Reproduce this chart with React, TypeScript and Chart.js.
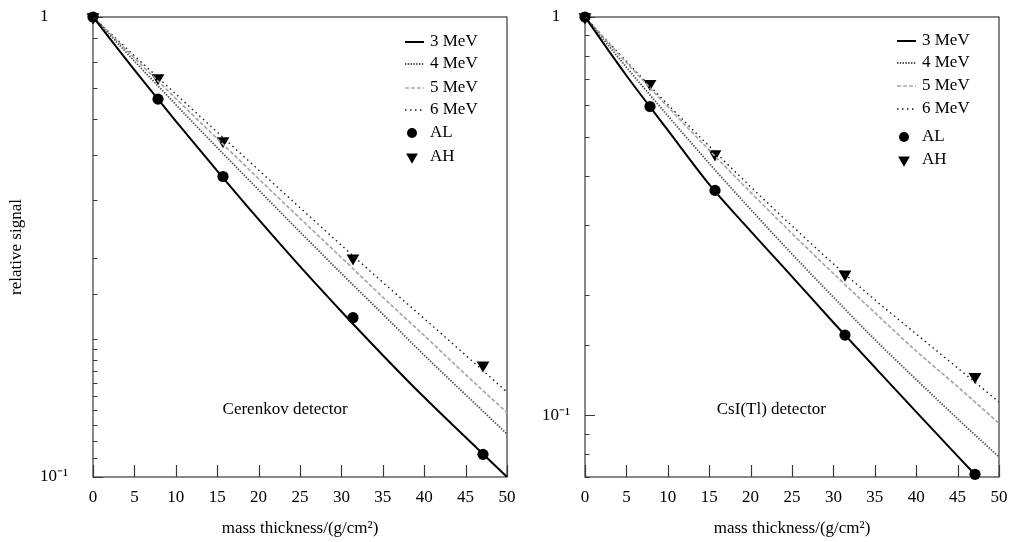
import React, { useEffect, useRef } from 'react';
import { Chart, registerables } from 'chart.js';
Chart.register(...registerables);

const FONT = "'Liberation Serif', 'Times New Roman', serif";

// mass thickness (g/cm^2) at which the calculated curves are read
const thickness = [0, 5, 10, 15, 20, 25, 30, 35, 40, 45, 50];
// measured absorber thicknesses (g/cm^2)
const sampleThickness = [0, 7.85, 15.7, 31.4, 47.1];

// Cerenkov detector – calculated curves
const cerenkov3MeV = [1, 0.767, 0.594, 0.463, 0.363, 0.287, 0.229, 0.184, 0.149, 0.122, 0.1];
const cerenkov4MeV = [1, 0.802, 0.645, 0.52, 0.421, 0.341, 0.277, 0.226, 0.184, 0.151, 0.124];
const cerenkov5MeV = [1, 0.815, 0.665, 0.544, 0.445, 0.365, 0.3, 0.246, 0.203, 0.167, 0.138];
const cerenkov6MeV = [1, 0.824, 0.68, 0.562, 0.465, 0.385, 0.319, 0.265, 0.221, 0.184, 0.153];
// Cerenkov detector – measurements
const cerenkovAL = [1, 0.663, 0.45, 0.222, 0.112];
const cerenkovAH = [1, 0.737, 0.538, 0.299, 0.175];

// CsI(Tl) detector – calculated curves
const csi3MeV = [1, 0.713, 0.52, 0.38, 0.29, 0.223, 0.171, 0.132, 0.102, 0.079, 0.0613];
const csi4MeV = [1, 0.748, 0.565, 0.429, 0.329, 0.254, 0.198, 0.155, 0.123, 0.098, 0.0786];
const csi5MeV = [1, 0.768, 0.595, 0.463, 0.363, 0.286, 0.227, 0.181, 0.145, 0.118, 0.0955];
const csi6MeV = [1, 0.774, 0.603, 0.474, 0.375, 0.299, 0.24, 0.195, 0.16, 0.1315, 0.108];
// CsI(Tl) detector – measurements
const csiAL = [1, 0.596, 0.367, 0.159, 0.0711];
const csiAH = [1, 0.68, 0.453, 0.226, 0.125];

const lineLabels = ['3 MeV', '4 MeV', '5 MeV', '6 MeV'];
const markerLabels = ['AL', 'AH'];
const xTitle = 'mass thickness/(g/cm\u00B2)';
const yTitle = 'relative signal';

const lineStyles = [
  { color: '#000000', width: 2, dash: [] as number[] },
  { color: '#505050', width: 1.8, dash: [1.4, 1.4] },
  { color: '#a8a8a8', width: 1.7, dash: [4, 2] },
  { color: '#1e1e1e', width: 1.4, dash: [1.5, 3.5] },
];

type Panel = {
  lines: number[][];
  al: number[];
  ah: number[];
  yMin: number;
  note: string;
  noteAt: { x: number; y: number };
  padLeft: number;
  padRight: number;
  yWidth: number;
  crossAlign: 'far' | 'center' | 'near';
  yPad: number;
  legendRows: number[];
  showYTitle: boolean;
};

const panels: Panel[] = [
  {
    lines: [cerenkov3MeV, cerenkov4MeV, cerenkov5MeV, cerenkov6MeV],
    al: cerenkovAL,
    ah: cerenkovAH,
    yMin: 0.1,
    note: 'Cerenkov detector',
    noteAt: { x: 23.2, y: 0.14 },
    padLeft: 40,
    padRight: 9,
    yWidth: 53,
    crossAlign: 'far',
    yPad: 0,
    legendRows: [25, 47, 71, 93, 116, 140],
    showYTitle: true,
  },
  {
    lines: [csi3MeV, csi4MeV, csi5MeV, csi6MeV],
    al: csiAL,
    ah: csiAH,
    yMin: 0.07,
    note: 'CsI(Tl) detector',
    noteAt: { x: 22.5, y: 0.1032 },
    padLeft: 0,
    padRight: 10,
    yWidth: 69,
    crossAlign: 'center',
    yPad: 15,
    legendRows: [24, 46, 69, 92, 120, 143],
    showYTitle: false,
  },
];

function drawTriangleDown(ctx: CanvasRenderingContext2D, x: number, y: number, r: number) {
  ctx.beginPath();
  ctx.moveTo(x - r * 0.866, y - r * 0.5);
  ctx.lineTo(x + r * 0.866, y - r * 0.5);
  ctx.lineTo(x, y + r);
  ctx.closePath();
  ctx.fill();
}

function makeDecor(p: Panel) {
  return {
    id: 'decor',
    beforeDatasetsDraw(chart: any) {
      const { ctx, chartArea } = chart;
      const { left, right, top, bottom } = chartArea;
      ctx.save();
      ctx.strokeStyle = '#3a3a3a';
      ctx.lineWidth = 1.2;
      ctx.strokeRect(left, top, right - left, bottom - top);
      const xs = chart.scales.x;
      ctx.beginPath();
      xs.ticks.forEach((t: any) => {
        const px = Math.round(xs.getPixelForValue(t.value)) + 0.5;
        ctx.moveTo(px, bottom);
        ctx.lineTo(px, bottom - 12);
      });
      const ys = chart.scales.y;
      ys.ticks.forEach((t: any) => {
        const lg = Math.log10(t.value);
        const major = Math.abs(lg - Math.round(lg)) < 1e-6;
        const py = Math.round(ys.getPixelForValue(t.value)) + 0.5;
        ctx.moveTo(left, py);
        ctx.lineTo(left + (major ? 10 : 4.5), py);
      });
      ctx.stroke();
      ctx.restore();
    },
    afterDraw(chart: any) {
      const { ctx, chartArea } = chart;
      const { right, top, bottom } = chartArea;
      ctx.save();
      ctx.font = `17px ${FONT}`;
      ctx.fillStyle = '#000';
      ctx.textBaseline = 'middle';
      // legend
      const sx0 = right - 102;
      const sx1 = right - 83;
      const tx = right - 77;
      lineLabels.forEach((lab, i) => {
        const y = top + p.legendRows[i];
        const st = lineStyles[i];
        ctx.save();
        ctx.strokeStyle = st.color;
        ctx.lineWidth = st.width;
        ctx.setLineDash(st.dash);
        ctx.beginPath();
        ctx.moveTo(sx0, y);
        ctx.lineTo(sx1, y);
        ctx.stroke();
        ctx.restore();
        ctx.textAlign = 'left';
        ctx.fillText(lab, tx, y);
      });
      const mx = right - 95;
      markerLabels.forEach((lab, j) => {
        const y = top + p.legendRows[4 + j];
        if (j === 0) {
          ctx.beginPath();
          ctx.arc(mx, y, 5, 0, Math.PI * 2);
          ctx.fill();
        } else {
          drawTriangleDown(ctx, mx, y, 6.8);
        }
        ctx.textAlign = 'left';
        ctx.fillText(lab, tx, y);
      });
      // note
      const nx = chart.scales.x.getPixelForValue(p.noteAt.x);
      const ny = chart.scales.y.getPixelForValue(p.noteAt.y);
      ctx.textAlign = 'center';
      ctx.fillText(p.note, nx, ny);
      // y title
      if (p.showYTitle) {
        ctx.save();
        ctx.translate(17, (top + bottom) / 2);
        ctx.rotate(-Math.PI / 2);
        ctx.textAlign = 'center';
        ctx.fillText(yTitle, 0, 0);
        ctx.restore();
      }
      ctx.restore();
    },
  };
}

function pts(xs: number[], ys: number[]) {
  return xs.map((x, i) => ({ x, y: ys[i] }));
}

function zeroPad(s: any) {
  s.paddingLeft = 0;
  s.paddingRight = 0;
  s.paddingTop = 0;
  s.paddingBottom = 0;
}

function makeConfig(p: Panel): any {
  const datasets: any[] = p.lines.map((vals, i) => ({
    label: lineLabels[i],
    data: pts(thickness, vals),
    showLine: true,
    borderColor: lineStyles[i].color,
    borderWidth: lineStyles[i].width,
    borderDash: lineStyles[i].dash,
    pointRadius: 0,
    fill: false,
    cubicInterpolationMode: 'monotone',
  }));
  datasets.push({
    label: markerLabels[0],
    data: pts(sampleThickness, p.al),
    showLine: false,
    pointStyle: 'circle',
    pointRadius: 5.6,
    backgroundColor: '#000',
    borderColor: '#000',
    borderWidth: 0,
    clip: false,
  });
  datasets.push({
    label: markerLabels[1],
    data: pts(sampleThickness, p.ah),
    showLine: false,
    pointStyle: 'triangle',
    rotation: 180,
    pointRadius: 7.4,
    backgroundColor: '#000',
    borderColor: '#000',
    borderWidth: 0,
    clip: false,
  });
  return {
    type: 'scatter',
    data: { datasets },
    options: {
      animation: false,
      responsive: true,
      maintainAspectRatio: false,
      events: [],
      layout: { padding: { left: p.padLeft, right: p.padRight, top: 17, bottom: 0 } },
      plugins: { legend: { display: false }, tooltip: { enabled: false } },
      scales: {
        x: {
          type: 'linear',
          min: 0,
          max: 50,
          grid: { display: false, drawTicks: false },
          border: { display: false },
          ticks: {
            stepSize: 5,
            autoSkip: false,
            maxRotation: 0,
            padding: 10,
            color: '#000',
            font: { family: FONT, size: 17 },
          },
          title: {
            display: true,
            text: xTitle,
            color: '#000',
            font: { family: FONT, size: 17 },
            padding: { top: 0, bottom: 3 },
          },
          afterFit(s: any) {
            s.height = 65;
            zeroPad(s);
          },
        },
        y: {
          type: 'logarithmic',
          min: p.yMin,
          max: 1,
          grid: { display: false, drawTicks: false },
          border: { display: false },
          ticks: {
            autoSkip: false,
            crossAlign: p.crossAlign,
            padding: p.yPad,
            color: '#000',
            font: { family: FONT, size: 17 },
            callback: (v: any) => {
              const n = Number(v);
              if (Math.abs(n - 1) < 1e-9) return '1';
              if (Math.abs(n - 0.1) < 1e-9) return '10\u207B\u00B9';
              return '';
            },
          },
          afterFit(s: any) {
            s.width = p.yWidth;
            zeroPad(s);
          },
        },
      },
    },
    plugins: [makeDecor(p)],
  };
}

function PanelChart({ panel }: { panel: Panel }) {
  const ref = useRef<HTMLCanvasElement>(null);
  useEffect(() => {
    if (!ref.current) return;
    const chart = new Chart(ref.current, makeConfig(panel));
    return () => chart.destroy();
  }, [panel]);
  return <canvas ref={ref} />;
}

export default function App() {
  return (
    <div style={{ position: 'absolute', left: 0, top: 0, width: 1009, height: 542, background: '#fff' }}>
      <div style={{ position: 'absolute', left: 0, top: 0, width: 516, height: 542 }}>
        <PanelChart panel={panels[0]} />
      </div>
      <div style={{ position: 'absolute', left: 516, top: 0, width: 493, height: 542 }}>
        <PanelChart panel={panels[1]} />
      </div>
    </div>
  );
}
